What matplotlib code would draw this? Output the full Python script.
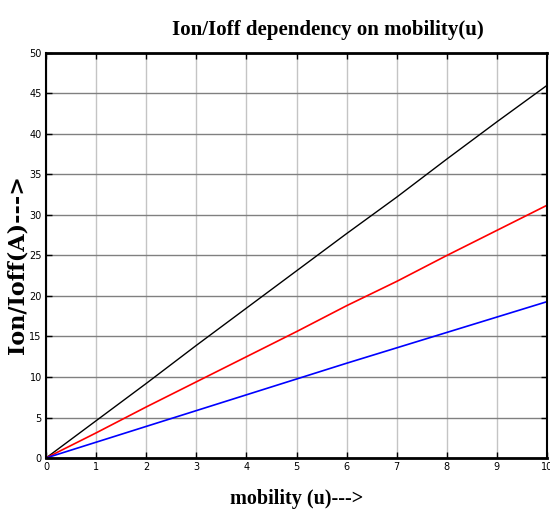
import matplotlib
matplotlib.use("Agg")
import matplotlib.pyplot as plt

# mobility values and Ion/Ioff curves
mobility = [0, 1, 2, 3, 4, 5, 6, 7, 8, 9, 10]
black_vals = [0, 4.6, 9.2, 13.9, 18.5, 23.1, 27.7, 32.2, 36.9, 41.5, 46.0]
red_vals = [0, 3.1, 6.3, 9.4, 12.5, 15.6, 18.8, 21.8, 25.0, 28.1, 31.2]
blue_vals = [0, 1.95, 3.9, 5.85, 7.8, 9.75, 11.7, 13.6, 15.5, 17.4, 19.3]

xticks = list(range(0, 11))
yticks = list(range(0, 51, 5))

fig = plt.figure(figsize=(5.5, 5.18), dpi=100)
ax = fig.add_axes([0.0836, 0.1158, 0.911, 0.782])

ax.plot(mobility, black_vals, color="black", lw=1.0)
ax.plot(mobility, red_vals, color="red", lw=1.2)
ax.plot(mobility, blue_vals, color="blue", lw=1.2)

ax.set_xlim(0, 10)
ax.set_ylim(0, 50)
ax.set_xticks(xticks)
ax.set_yticks(yticks)

# grid: horizontal darker, vertical lighter
ax.yaxis.grid(True, color="#808080", lw=1.0)
ax.xaxis.grid(True, color="#c4c4c4", lw=1.0)
ax.set_axisbelow(True)

for side in ["top", "bottom"]:
    ax.spines[side].set_linewidth(2.0)
ax.spines["left"].set_linewidth(1.5)
ax.spines["right"].set_linewidth(1.5)

ax.tick_params(direction="in", top=True, right=True, length=4, width=1,
               labelsize=7, pad=3)

fig.text(0.596, 0.942, "Ion/Ioff dependency on mobility(u)", ha="center",
         va="center", fontsize=15, fontweight="bold", family="Liberation Serif")
fig.text(0.54, 0.037, "mobility (u)--->", ha="center", va="center",
         fontsize=14.5, fontweight="bold", family="Liberation Serif")
fig.text(0.032, 0.49, "Ion/Ioff(A)--->", ha="center", va="center",
         rotation=90, fontsize=16, fontweight="bold", family="DejaVu Serif")

fig.savefig("out.png", dpi=100)
